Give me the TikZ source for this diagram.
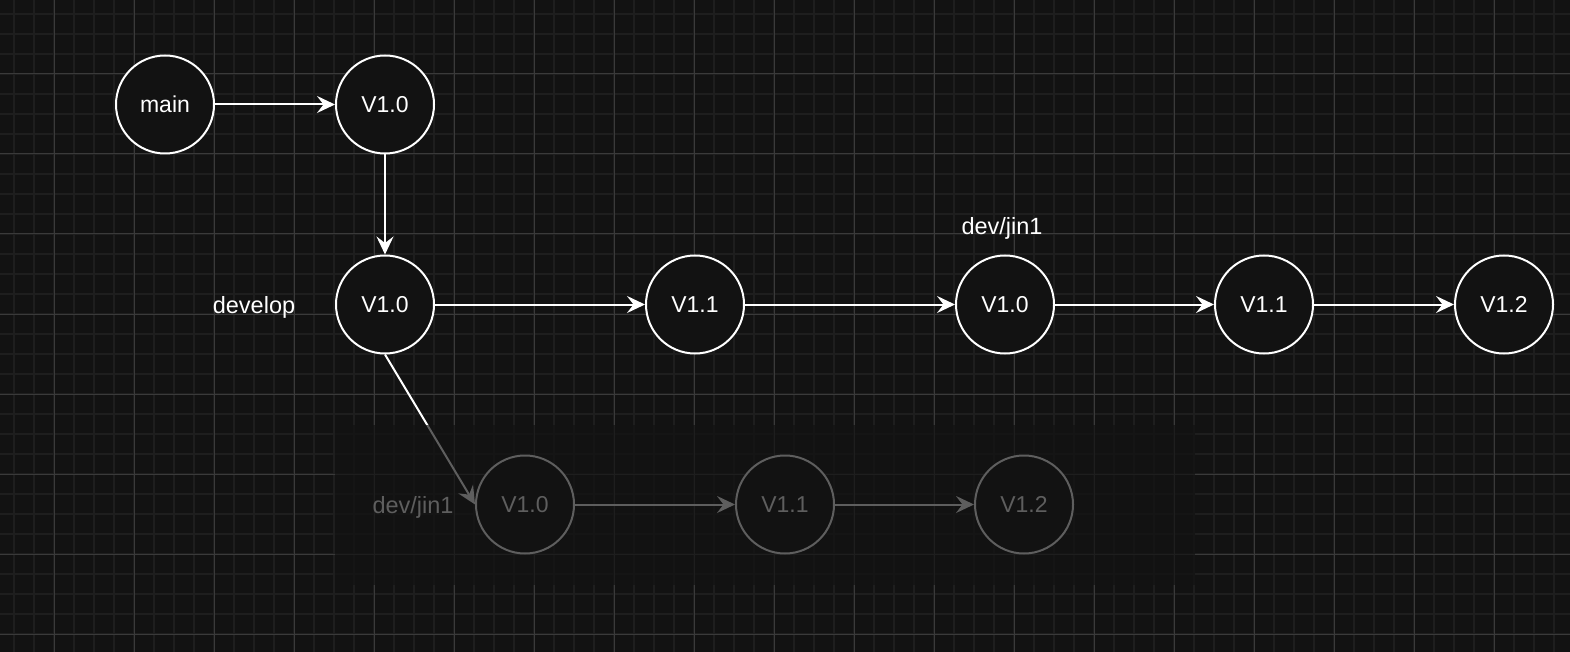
\documentclass[tikz,border=0pt]{standalone}
\usepackage{fontspec}
\setmainfont{Liberation Sans}
\usetikzlibrary{arrows.meta}
\definecolor{bg}{HTML}{121212}
\definecolor{minorc}{HTML}{1E1E1E}
\definecolor{majorc}{HTML}{3A3A3A}
\tikzset{
  commit/.style={circle, draw=white, fill=bg, line width=2pt, minimum size=98pt, inner sep=0pt, text=white, font=\fontsize{23}{27}\selectfont},
  lbl/.style={text=white, inner sep=0pt, font=\fontsize{23.5}{27}\selectfont},
  link/.style={draw=white, line width=2pt, -{Stealth[length=18pt,width=17pt,inset=6.5pt]}},
  minorline/.style={draw=minorc, line width=1.5pt},
  majorline/.style={draw=majorc, line width=1pt},
}
\begin{document}
\begin{tikzpicture}[x=1pt,y=-1pt]
\fill[bg] (0,0) rectangle (1570,652);
\useasboundingbox (0,0) rectangle (1570,652);
% grid
\foreach \x in {14,34,...,1570} \draw[minorline] (\x,0) -- (\x,652);
\foreach \y in {14,34,...,652} \draw[minorline] (0,\y) -- (1570,\y);
\foreach \x in {54,134,...,1570} \draw[majorline] (\x,0) -- (\x,652);
\foreach \y in {74,154,...,652} \draw[majorline] (0,\y) -- (1570,\y);
% nodes
\node[commit] (main) at (165,104.5) {main};
\node[commit] (m10) at (385,104.5) {V1.0};
\node[commit] (d10) at (385,304.5) {V1.0};
\node[commit] (d11) at (695,304.5) {V1.1};
\node[commit] (j10) at (1005,304.5) {V1.0};
\node[commit] (j11) at (1264,304.5) {V1.1};
\node[commit] (j12) at (1504,304.5) {V1.2};
\node[lbl] (develop) at (254,307.5) {develop};
\node[lbl] (jin) at (1002,228) {dev/jin1};
% lower branch
\node[commit] (l10) at (525,504.5) {V1.0};
\node[commit] (l11) at (785,504.5) {V1.1};
\node[commit] (l12) at (1024,504.5) {V1.2};
\node[lbl] (ljin) at (413,507.5) {dev/jin1};
% edges
\draw[link] (main) -- (m10);
\draw[link] (m10) -- (d10);
\draw[link] (d10) -- (d11);
\draw[link] (d11) -- (j10);
\draw[link] (j10) -- (j11);
\draw[link] (j11) -- (j12);
\draw[link] (d10.south) -- (l10.west);
\draw[link] (l10) -- (l11);
\draw[link] (l11) -- (l12);
% faded overlay
\fill[bg, opacity=0.68] (335,425) rectangle (1195,585);
\end{tikzpicture}
\end{document}
